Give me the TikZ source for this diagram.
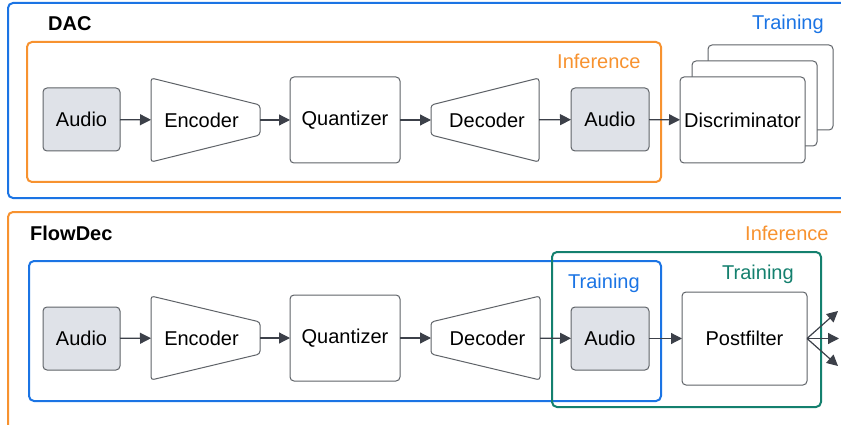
\documentclass[tikz,border=0pt]{standalone}
\usepackage{fontspec}
\setmainfont{Liberation Sans}
\usetikzlibrary{arrows.meta,calc}
\definecolor{myblue}{RGB}{27,116,228}
\definecolor{myorange}{RGB}{247,146,47}
\definecolor{mygreen}{RGB}{20,128,110}
\definecolor{audiofill}{RGB}{223,226,232}
\definecolor{bordergray}{RGB}{95,99,104}
\definecolor{arrowgray}{RGB}{60,64,73}
\begin{document}
\begin{tikzpicture}[x=1pt,y=-1pt,
  font=\fontsize{20}{24}\selectfont,
  box/.style={draw=bordergray, line width=1pt, rounded corners=4pt, fill=white, inner sep=0pt, outer sep=0pt, align=center},
  audiobox/.style={box, fill=audiofill},
  trap/.style={inner sep=0pt, outer sep=0pt},
  trapline/.style={draw=bordergray, line width=1pt, rounded corners=3pt, fill=white},
  arr/.style={draw=arrowgray, line width=1.2pt, -{Triangle[length=11pt,width=11pt]}},
  frame/.style={line width=2pt, rounded corners=5pt},
  lab/.style={anchor=base west, inner sep=0pt},
  ttl/.style={lab, font=\fontsize{20}{24}\selectfont\bfseries}]
\useasboundingbox (0,0) rectangle (841,425);
\clip (0,0) rectangle (841,425);

% ---------- DAC ----------
\draw[frame, draw=myblue] (8,3) rectangle (870,198);
\draw[frame, draw=myorange] (27,42) rectangle (661,182);
\node[ttl] (dac) at (48,31) {DAC};
\node[lab, text=myblue] (traintop) at (752,30) {Training};
\node[lab, text=myorange] (inftop) at (557,69) {Inference};

\node[audiobox, minimum width=77pt, minimum height=63pt] (a1) at (81.5,119.5) {Audio};
\node[trap, minimum width=109pt, minimum height=84pt] (enc) at (205.5,120) {};
\draw[trapline] (enc.north west) -- ($(enc.east)+(0,-15)$) -- ($(enc.east)+(0,15)$) -- (enc.south west) -- cycle;
\node at ($(enc)+(-4,0)$) {Encoder};
\node[box, minimum width=110pt, minimum height=86pt] (q) at (345,120) {Quantizer};
\node[trap, minimum width=108pt, minimum height=84pt] (dec) at (485,120) {};
\draw[trapline] (dec.north east) -- ($(dec.west)+(0,-15)$) -- ($(dec.west)+(0,15)$) -- (dec.south east) -- cycle;
\node at ($(dec)+(2,0)$) {Decoder};
\node[audiobox, minimum width=78pt, minimum height=63pt] (a2) at (610,119.5) {Audio};
\node[box, minimum width=125pt, minimum height=85pt] (d3) at (770.5,87.5) {};
\node[box, minimum width=125pt, minimum height=85pt] (d2) at (754.5,103.5) {};
\node[box, minimum width=125pt, minimum height=86pt] (d1) at (742.5,120) {Discriminator};

\draw[arr] (a1) -- (enc);
\draw[arr] (enc) -- (q);
\draw[arr] (q) -- (dec);
\draw[arr] (dec) -- (a2);
\draw[arr] (a2) -- (d1);

% ---------- FlowDec ----------
\draw[frame, draw=myorange] (8,212) rectangle (870,450);
\draw[frame, draw=myblue] (29,261) rectangle (661,401);
\draw[frame, draw=mygreen] (552,252) rectangle (821,407);
\node[ttl] (flowdec) at (30,240) {FlowDec};
\node[lab, text=myorange] (infbot) at (745,240) {Inference};
\node[lab, text=myblue] (trainblue) at (568,288) {Training};
\node[lab, text=mygreen] (traingreen) at (722,279) {Training};

\node[audiobox, minimum width=77pt, minimum height=63pt] (b1) at (81.5,338.5) {Audio};
\node[trap, minimum width=109pt, minimum height=84pt] (benc) at (205.5,338) {};
\draw[trapline] (benc.north west) -- ($(benc.east)+(0,-16)$) -- ($(benc.east)+(0,16)$) -- (benc.south west) -- cycle;
\node at ($(benc)+(-4,0)$) {Encoder};
\node[box, minimum width=110pt, minimum height=86pt] (bq) at (345,338) {Quantizer};
\node[trap, minimum width=109pt, minimum height=84pt] (bdec) at (485.5,338) {};
\draw[trapline] (bdec.north east) -- ($(bdec.west)+(0,-16)$) -- ($(bdec.west)+(0,16)$) -- (bdec.south east) -- cycle;
\node at ($(bdec)+(2,0)$) {Decoder};
\node[audiobox, minimum width=78pt, minimum height=63pt] (b2) at (610,338.5) {Audio};
\node[box, minimum width=125pt, minimum height=93pt] (pf) at (744.5,338.5) {Postfilter};

\coordinate (o1) at (838,311);
\coordinate (o2) at (839,338.5);
\coordinate (o3) at (838,366);

\draw[arr] (b1) -- (benc);
\draw[arr] (benc) -- (bq);
\draw[arr] (bq) -- (bdec);
\draw[arr] (bdec) -- (b2);
\draw[arr] (b2) -- (pf);
\draw[arr] (pf.east) -- (o1);
\draw[arr] (pf.east) -- (o2);
\draw[arr] (pf.east) -- (o3);
\end{tikzpicture}
\end{document}
